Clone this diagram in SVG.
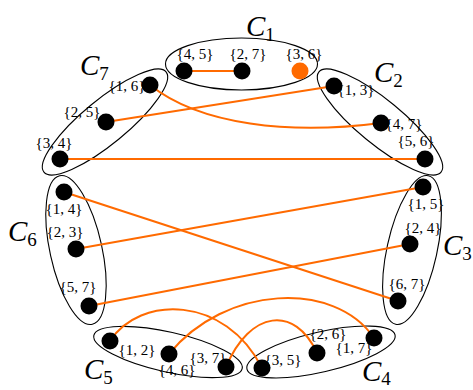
<svg xmlns="http://www.w3.org/2000/svg" width="473" height="390" viewBox="0 0 473 390">
<style>
.cl{fill:none;stroke:#000;stroke-width:1.1}
.e{fill:none;stroke:#ff6a00;stroke-width:2}
.n{fill:#000}
.lb{font-family:"Liberation Serif","DejaVu Serif",serif;font-size:15px;text-anchor:middle}
.cn{font-family:"Liberation Serif","DejaVu Serif",serif;font-size:29px;font-style:italic}
.sub{font-size:19px;font-style:normal}
</style>
<rect width="473" height="390" fill="#fff"/>
<g id="clusters">
<g id="C1"><ellipse class="cl" cx="241.5" cy="64" rx="76" ry="26"/><text class="cn" x="246" y="36">C<tspan class="sub" dy="5">1</tspan></text></g>
<g id="C7"><ellipse class="cl" cx="105" cy="122" rx="79" ry="22" transform="rotate(-39.4 105 122)"/><text class="cn" x="80" y="75">C<tspan class="sub" dy="5">7</tspan></text></g>
<g id="C2"><ellipse class="cl" cx="380" cy="122" rx="79" ry="22" transform="rotate(39.4 380 122)"/><text class="cn" x="374" y="82">C<tspan class="sub" dy="5">2</tspan></text></g>
<g id="C6"><ellipse class="cl" cx="76" cy="250" rx="76" ry="26" transform="rotate(77.6 76 250)"/><text class="cn" x="8" y="241">C<tspan class="sub" dy="5">6</tspan></text></g>
<g id="C3"><ellipse class="cl" cx="412" cy="250" rx="76" ry="25" transform="rotate(-77.6 412 250)"/><text class="cn" x="443" y="255">C<tspan class="sub" dy="5">3</tspan></text></g>
<g id="C5"><ellipse class="cl" cx="168" cy="352" rx="76" ry="20" transform="rotate(12.6 168 352)"/><text class="cn" x="84" y="379">C<tspan class="sub" dy="5">5</tspan></text></g>
<g id="C4"><ellipse class="cl" cx="321" cy="352" rx="76" ry="20" transform="rotate(-13 321 352)"/><text class="cn" x="362" y="381">C<tspan class="sub" dy="4">4</tspan></text></g>
</g>
<g id="edges">
<path class="e" d="M184,71 L242,71"/>
<path class="e" d="M150,85 C200,125 290,135 381,123"/>
<path class="e" d="M106,122 L334,86"/>
<path class="e" d="M60,159 L425,159"/>
<path class="e" d="M64,192 L398,301"/>
<path class="e" d="M76,249 L423,187"/>
<path class="e" d="M89,306 L410,244"/>
<path class="e" d="M110,341 C140,295 225,295 262,368"/>
<path class="e" d="M169,354 C225,285 335,280 374,338"/>
<path class="e" d="M226,367 C250,310 295,305 317,353"/>
</g>
<g id="nodes">
<g id="n45"><circle class="n" cx="184" cy="71" r="8.5"/><text class="lb" x="195" y="59">{4, 5}</text></g>
<g id="n27"><circle class="n" cx="242" cy="71" r="8.5"/><text class="lb" x="248" y="59">{2, 7}</text></g>
<g id="n36"><circle cx="300" cy="71" r="8.5" fill="#ff6a00"/><text class="lb" x="304" y="59">{3, 6}</text></g>
<g id="n16"><circle class="n" cx="150" cy="85" r="8.5"/><text class="lb" x="127" y="91">{1, 6}</text></g>
<g id="n25"><circle class="n" cx="106" cy="122" r="8.5"/><text class="lb" x="82" y="117">{2, 5}</text></g>
<g id="n34"><circle class="n" cx="60" cy="159" r="8.5"/><text class="lb" x="54" y="148">{3, 4}</text></g>
<g id="n13"><circle class="n" cx="334" cy="86" r="8.5"/><text class="lb" x="356" y="95">{1, 3}</text></g>
<g id="n47"><circle class="n" cx="381" cy="123" r="8.5"/><text class="lb" x="404" y="129">{4, 7}</text></g>
<g id="n56"><circle class="n" cx="425" cy="159" r="8.5"/><text class="lb" x="416" y="146">{5, 6}</text></g>
<g id="n14"><circle class="n" cx="64" cy="192" r="8.5"/><text class="lb" x="64" y="214">{1, 4}</text></g>
<g id="n23"><circle class="n" cx="76" cy="249" r="8.5"/><text class="lb" x="65" y="237">{2, 3}</text></g>
<g id="n57"><circle class="n" cx="89" cy="306" r="8.5"/><text class="lb" x="78" y="292">{5, 7}</text></g>
<g id="n15"><circle class="n" cx="423" cy="187" r="8.5"/><text class="lb" x="426" y="209">{1, 5}</text></g>
<g id="n24"><circle class="n" cx="410" cy="244" r="8.5"/><text class="lb" x="423" y="233">{2, 4}</text></g>
<g id="n67"><circle class="n" cx="398" cy="301" r="8.5"/><text class="lb" x="407" y="289">{6, 7}</text></g>
<g id="n12"><circle class="n" cx="110" cy="341" r="8.5"/><text class="lb" x="137" y="355">{1, 2}</text></g>
<g id="n46"><circle class="n" cx="169" cy="354" r="8.5"/><text class="lb" x="177" y="375">{4, 6}</text></g>
<g id="n37"><circle class="n" cx="226" cy="367" r="8.5"/><text class="lb" x="208" y="363">{3, 7}</text></g>
<g id="n35"><circle class="n" cx="262" cy="368" r="8.5"/><text class="lb" x="283" y="365">{3, 5}</text></g>
<g id="n26"><circle class="n" cx="317" cy="353" r="8.5"/><text class="lb" x="328" y="339">{2, 6}</text></g>
<g id="n17"><circle class="n" cx="374" cy="338" r="8.5"/><text class="lb" x="354" y="353">{1, 7}</text></g>
</g>
</svg>
